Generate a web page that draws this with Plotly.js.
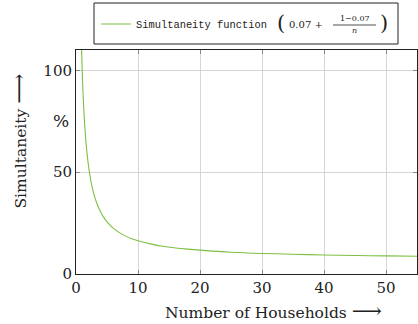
<!DOCTYPE html>
<html>
<head>
<meta charset="utf-8">
<script src="https://cdn.plot.ly/plotly-3.0.1.min.js"></script>
<style>html,body{margin:0;padding:0;background:#fff;}#chart{width:418px;height:324px;}</style>
</head>
<body>
<div id="chart"></div>
<script>
// Number of households
const households = [0.9, 1, 1.1, 1.2, 1.25, 1.4, 1.5, 1.6, 1.75, 1.8, 2, 2.25, 2.5, 2.75, 3, 3.5, 4, 4.5, 5, 6, 7, 8, 9, 10, 12, 14, 16, 18, 20, 25, 30, 35, 40, 45, 50, 55];
// Simultaneity in percent
const simultaneity = [110.3, 100, 91.5, 84.5, 81.4, 73.4, 69, 65.1, 60.1, 58.7, 53.5, 48.3, 44.2, 40.8, 38, 33.6, 30.3, 27.7, 25.6, 22.5, 20.3, 18.6, 17.3, 16.3, 14.8, 13.6, 12.8, 12.2, 11.7, 10.7, 10.1, 9.7, 9.3, 9.1, 8.9, 8.7];
const xTicks = [0, 10, 20, 30, 40, 50];
const yTicks = [0, 50, 100];
const seriesName = "Simultaneity function";
const xTitle = "Number of Households";
const yTitle = "Simultaneity";

const serif = "DejaVu Serif, Liberation Serif, serif";
const ink = "rgb(34,34,34)";
const green = "#7cc043";
const arrow = " <span style='font-size:21px'>\u27f6</span>";

const trace = {
  x: households, y: simultaneity, type: "scatter", mode: "lines",
  name: seriesName, line: {color: green, width: 1.1, shape: "spline"},
  hoverinfo: "skip"
};

const axisCommon = {
  showgrid: true, gridcolor: "#d6d6d6", gridwidth: 1,
  showline: true, linecolor: ink, linewidth: 1, mirror: "ticks",
  ticks: "inside", ticklen: 4, tickcolor: "#888", tickwidth: 1,
  zeroline: false, tickfont: {family: serif, size: 15, color: ink}
};

const P = (px) => (px - 76) / 341;
const Q = (py) => (274 - py) / 224;

function note(px, py, text, size, family, yref, yval) {
  return {xref: "paper", yref: yref || "paper", x: P(px), y: yref ? yval : Q(py),
    xanchor: "center", yanchor: "middle", text: text, showarrow: false,
    font: {family: family || serif, size: size, color: ink}};
}

const yTitleNote = note(18.5, 141, yTitle + arrow, 15.5);
yTitleNote.textangle = -90;

const layout = {
  width: 418, height: 324,
  margin: {l: 76, r: 1, t: 50, b: 50},
  paper_bgcolor: "#fff", plot_bgcolor: "#fff",
  font: {color: ink},
  showlegend: true,
  legend: {x: P(96), xanchor: "left", y: Q(24), yanchor: "middle",
    bgcolor: "rgba(0,0,0,0)", borderwidth: 0,
    font: {family: "Liberation Mono, DejaVu Sans Mono, monospace", size: 10.4, color: ink}},
  xaxis: Object.assign({}, axisCommon, {
    range: [0, 55], tickvals: xTicks, ticktext: xTicks.map(String)
  }),
  yaxis: Object.assign({}, axisCommon, {
    range: [0, 110], tickvals: yTicks, ticktext: yTicks.map(String)
  }),
  shapes: [
    {type: "rect", xref: "paper", yref: "paper", x0: P(94), x1: P(398), y0: Q(44), y1: Q(3),
     line: {color: ink, width: 1}, fillcolor: "rgba(0,0,0,0)"},
    {type: "line", xref: "paper", yref: "paper", x0: P(333), x1: P(376), y0: Q(25), y1: Q(25),
     line: {color: ink, width: 0.8}}
  ],
  annotations: [
    note(273.5, 311, xTitle + arrow, 15.5),
    yTitleNote,
    note(61, 0, "%", 17, serif, "y", 75),
    note(281, 23, "(", 21),
    note(306, 24.5, "0.07 +", 10),
    note(354.5, 19, "1\u22120.07", 8),
    note(354.5, 31, "<i>n</i>", 8),
    note(384, 23, ")", 21)
  ]
};

Plotly.newPlot("chart", [trace], layout, {staticPlot: true, displayModeBar: false});
</script>
</body>
</html>
